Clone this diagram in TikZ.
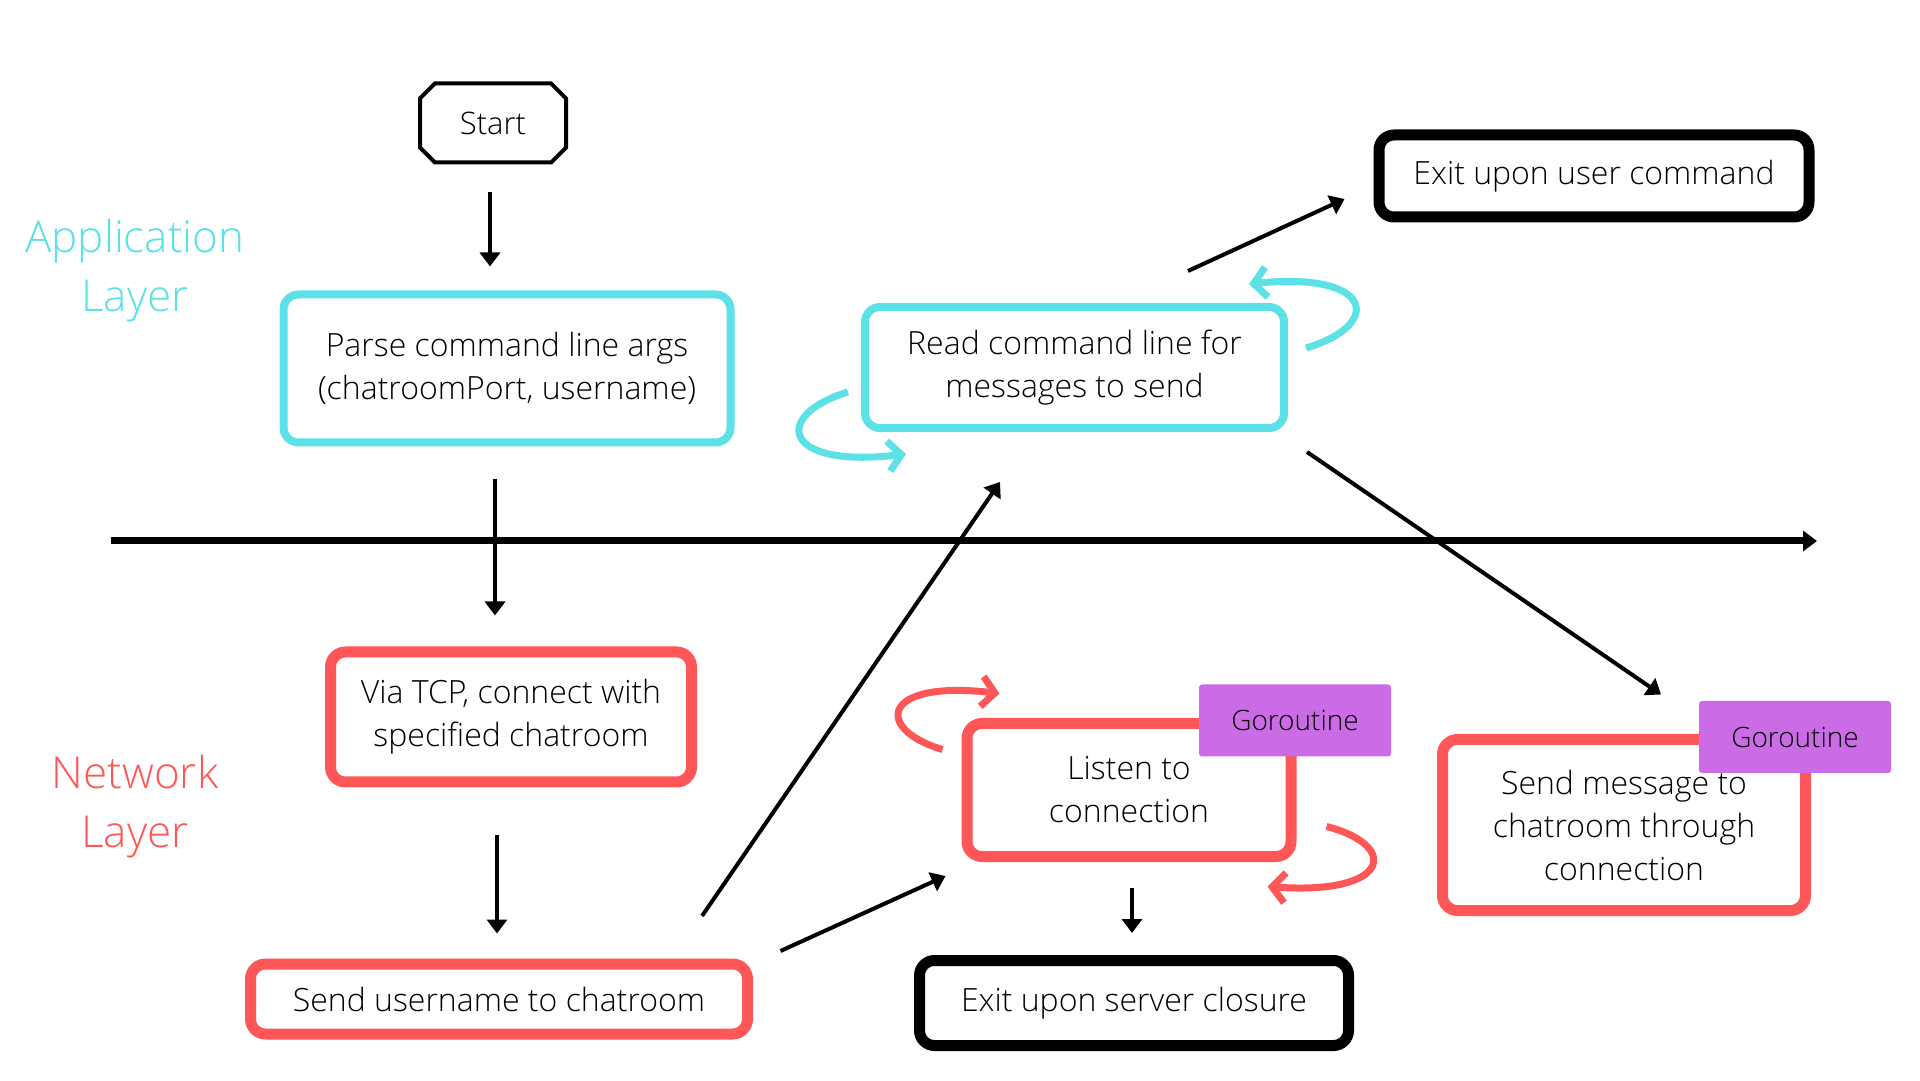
\documentclass[tikz,border=0pt]{standalone}
\usepackage{fontspec}
\setmainfont{Open Sans Light}
\usetikzlibrary{arrows.meta, shapes.misc, calc}

\definecolor{appcyan}{HTML}{5CE1E6}
\definecolor{netred}{HTML}{FF5757}
\definecolor{gopurple}{HTML}{CB6CE6}

\tikzset{
  box/.style={fill=white, rounded corners=15pt, align=center, inner sep=0pt, text=black, font=\fontsize{32}{43}\selectfont},
  appbox/.style={box, draw=appcyan, line width=8pt},
  netbox/.style={box, draw=netred, line width=11pt},
  exitbox/.style={box, draw=black, line width=11pt},
  tag/.style={fill=gopurple, rounded corners=3pt, inner sep=0pt, minimum width=192pt, minimum height=72pt, font=\fontsize{28}{30}\selectfont},
  arr/.style={-{Triangle[length=14pt,width=20pt]}, line width=4pt},
  loopapp/.style={appcyan, line width=7pt, -{Straight Barb[length=13pt,width=30pt]}},
  loopnet/.style={netred, line width=7pt, -{Straight Barb[length=13pt,width=30pt]}},
  layer/.style={align=center, font=\fontsize{44}{59}\selectfont}
}

\begin{document}
\begin{tikzpicture}[x=1pt, y=1pt]
  \useasboundingbox[fill=white] (0,0) rectangle (1920,1080);

  \node[layer, appcyan] (applayer) at (135,809) {Application\\Layer};
  \node[layer, netred] (netlayer) at (135,273) {Network\\Layer};

  \node[draw, line width=4pt, chamfered rectangle, chamfered rectangle xsep=22pt, minimum width=146pt, minimum height=79pt, inner sep=0pt, font=\fontsize{31}{34}\selectfont] (start) at (493,957) {Start};
  \node[appbox, minimum width=447pt, minimum height=148pt] (parse) at (507,711.5) {Parse command line args\\(chatroomPort, username)};
  \node[appbox, minimum width=419pt, minimum height=121pt] (read) at (1074.5,712.5) {Read command line for\\messages to send};
  \node[exitbox, minimum width=430pt, minimum height=82pt] (exituser) at (1594,904) {Exit upon user command};
  \node[netbox, minimum width=361pt, minimum height=130pt] (via) at (511,363) {Via TCP, connect with\\specified chatroom};
  \node[netbox, minimum width=497pt, minimum height=70pt] (senduser) at (499,81) {Send username to chatroom};
  \node[netbox, minimum width=324pt, minimum height=133pt] (listen) at (1129,290) {Listen to\\connection};
  \node[exitbox, minimum width=429pt, minimum height=85pt] (exitserver) at (1134,77) {Exit upon server closure};
  \node[netbox, minimum width=363pt, minimum height=171pt] (sendmsg) at (1624,255) {Send message to\\chatroom through\\connection};
  \node[tag] (tagA) at (1295,359.5) {Goroutine};
  \node[tag] (tagB) at (1795,343) {Goroutine};

  \coordinate (axisL) at (111,539);
  \coordinate (axisR) at (1817,539);
  \draw[-{Triangle[length=14pt,width=20pt]}, line width=7pt] (axisL) -- (axisR);

  \draw[arr, shorten <=28pt, shorten >=24pt] ([xshift=-3pt]start.south) -- ([xshift=-3pt]start.south |- parse.north);
  \draw[arr, shorten <=33pt, shorten >=31pt] ([xshift=-12pt]parse.south) -- ([xshift=-12pt]parse.south |- via.north);
  \draw[arr, shorten <=47pt, shorten >=25pt] ([xshift=-14pt]via.south) -- ([xshift=-14pt]via.south |- senduser.north);
  \draw[arr] ([shift={(203,42.5)}]senduser.north) -- ([shift={(-74.5,-50)}]read.south);
  \draw[arr] ([shift={(27.5,48)}]senduser.east) -- ([shift={(-16,-86)}]listen.west);
  \draw[arr] ([shift={(113.5,32)}]read.north) -- ([shift={(-29,-23)}]exituser.west);
  \draw[arr] ([shift={(19,-20)}]read.south east) -- ([shift={(37,39.5)}]sendmsg.north);
  \draw[arr, shorten <=26pt, shorten >=22pt] ([xshift=3pt]listen.south) -- ([xshift=3pt]listen.south |- exitserver.north);

  \draw[loopapp] ([shift={(-13,-24.5)}]read.west) .. controls +(-76,-23) and +(-125,-15) .. ([shift={(45,-22)}]read.south west);
  \draw[loopapp] ([shift={(18,19.5)}]read.east) .. controls +(78,23) and +(125,13) .. ([shift={(-39,19)}]read.north east);
  \draw[loopnet] ([shift={(-19,-31.5)}]listen.north west) .. controls +(-68,20) and +(-120,14) .. ([shift={(38,24.5)}]listen.north west);
  \draw[loopnet] ([shift={(30,35.5)}]listen.south east) .. controls +(74,-19) and +(123,-9) .. ([shift={(-29,-24.5)}]listen.south east);
\end{tikzpicture}
\end{document}
